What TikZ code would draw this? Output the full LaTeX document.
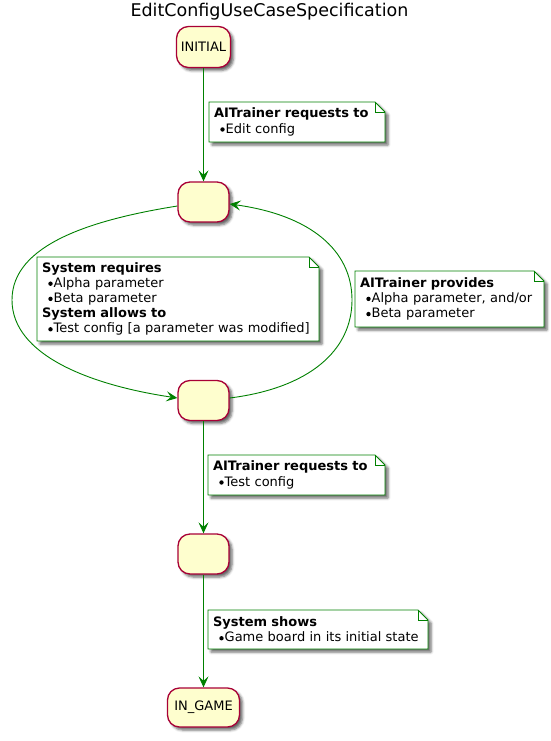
\documentclass[tikz,border=0pt]{standalone}
\usepackage{fontspec}
\setmainfont{DejaVu Sans}
\usetikzlibrary{arrows.meta,shadows.blur,backgrounds}
\definecolor{stfill}{HTML}{FEFECE}
\definecolor{stline}{HTML}{A80036}
\definecolor{lnk}{HTML}{008000}
\newcommand{\bul}{\hspace*{6.3pt}\tikz[baseline=0pt]\fill[black] (0pt,3.7pt) circle (2.2pt);\hspace*{1pt}}
\tikzset{
  stbox/.style={draw=stline, fill=stfill, line width=1.3pt, rounded corners=12pt,
    minimum width=51pt, minimum height=40pt, inner sep=0pt,
    font=\fontsize{13}{15}\selectfont,
    blur shadow={shadow xshift=3pt, shadow yshift=-3pt, shadow blur radius=2.5pt, shadow opacity=60}},
  notetext/.style={anchor=north west, inner xsep=5pt, inner ysep=0pt, outer sep=0pt,
    align=left, font=\fontsize{13}{15.2}\selectfont},
  notebg/.style={draw=lnk, fill=white, line width=0.9pt,
    blur shadow={shadow xshift=3pt, shadow yshift=-3pt, shadow blur radius=2.5pt, shadow opacity=60}},
  notefold/.style={draw=lnk, line width=0.9pt},
  link/.style={draw=lnk, line width=0.9pt, -{Stealth[length=11pt,width=10pt,inset=4.5pt]}}
}
\newcommand{\notebox}[1]{%
  \path[notebg] (#1.north west) -- ([xshift=-10pt]#1.north east) -- ([yshift=-10pt]#1.north east) -- (#1.south east) -- (#1.south west) -- cycle;
  \draw[notefold] ([xshift=-10pt]#1.north east) |- ([yshift=-10pt]#1.north east);
}
\begin{document}
\begin{tikzpicture}[x=1pt,y=-1pt]
\path[use as bounding box] (0,0) rectangle (550,741);

\node[font=\fontsize{17.5}{20}\selectfont, anchor=base] (title) at (269.5,17) {EditConfigUseCaseSpecification};

\node[stbox, minimum width=54pt, minimum height=41pt] (init) at (203.5,47) {INITIAL};
\node[stbox] (s2) at (203.5,202) {};
\node[stbox] (s3) at (203.5,400.5) {};
\node[stbox] (s4) at (203.5,554) {};
\node[stbox, minimum width=72pt, minimum height=39pt] (ingame) at (203.5,707.5) {IN\_GAME};

\node[notetext, minimum height=40pt, text width=166pt] (n1) at (209,102)
  {\textbf{AITrainer requests to}\\\bul Edit config};
\node[notetext, minimum height=84pt, text width=272pt] (n2) at (37,257)
  {\textbf{System requires}\\\bul Alpha parameter\\\bul Beta parameter\\\textbf{System allows to}\\\bul Test config [a parameter was modified]};
\node[notetext, minimum height=56pt, text width=179pt] (n3) at (355,271)
  {\textbf{AITrainer provides}\\\bul Alpha parameter, and/or\\\bul Beta parameter};
\node[notetext, minimum height=40pt, text width=167pt] (n4) at (208,455)
  {\textbf{AITrainer requests to}\\\bul Test config};
\node[notetext, minimum height=39pt, text width=210pt] (n5) at (208,610)
  {\textbf{System shows}\\\bul Game board in its initial state};

\begin{scope}[on background layer]
  \notebox{n1}
  \notebox{n2}
  \notebox{n3}
  \notebox{n4}
  \notebox{n5}
\end{scope}

\draw[link] (init) -- (s2);
\draw[link] (s3) -- (s4);
\draw[link] (s4) -- (ingame);
\draw[link] ([yshift=-4pt]s2.west) .. controls (90,220) and (12,245) .. (12,300)
  .. controls (12,355) and (90,385) .. ([yshift=2.5pt]s3.west);
\draw[link] ([yshift=2.5pt]s3.east) .. controls (310,388) and (352,350) .. (352,300)
  .. controls (352,250) and (310,215) .. ([yshift=-2pt]s2.east);
\end{tikzpicture}
\end{document}
